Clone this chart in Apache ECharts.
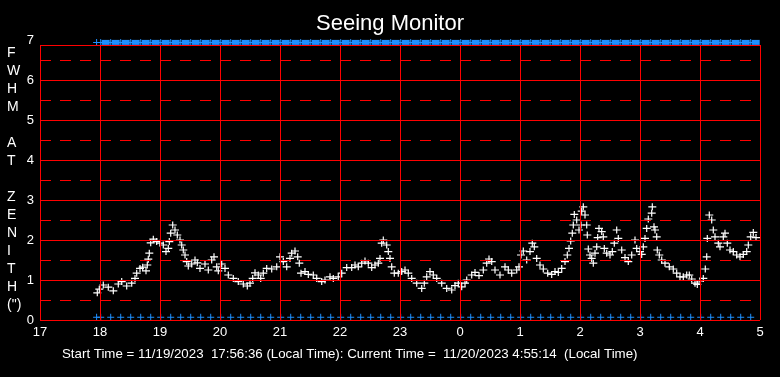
<!DOCTYPE html>
<html>
<head>
<meta charset="utf-8">
<script src="https://cdn.jsdelivr.net/npm/echarts@6/dist/echarts.min.js"></script>
<style>
  html, body { margin: 0; padding: 0; background: #000; }
  #chart { width: 780px; height: 377px; }
</style>
</head>
<body>
<div id="chart"></div>
<script>
// Time of each sample, minutes after 17:00 (local time)
const fwhmTimes = [
  57.3,59.3,63.3,68.3,73.3,78.3,81.7,86.7,91.7,95,96.7,100,102.7,106,107.3,108.3,109.3,110.7,113.3,116.7,
  120,123.3,126,128.3,129.3,130.7,132.7,135,137.3,140,141.7,143.3,145,146.7,148.3,151.7,155,157.3,160,165,
  168.3,171.7,174,176.7,178.3,181.7,185,188.3,193.3,198.3,203.3,207.3,210,212.7,215,218.3,220.7,223.3,226.7,
  231.7,236.7,240,243.3,246.7,250,251.7,255,257.7,259.3,261,265,268.3,273.3,276.7,281.7,285,290,293.3,298.3,
  301.7,306.7,311.7,315,318.3,321.7,325,328.3,331.7,335,338.3,340,341.7,343.3,346.7,348.3,350,351.7,354.3,358.3,
  361.7,365,368.3,371.7,376.7,381.7,384.3,386.7,390,393.3,396.7,401.7,406.7,411.7,415,418.3,421.7,425,
  426.7,431.7,435,439,443.3,446.7,449,451.7,455,460,465,468.3,471.7,476.7,479,481,483.3,486.7,490,492.3,
  494.3,496.7,500,503.3,507.7,511.7,515,518.3,521.7,525,527.3,529,530.7,532.3,533.3,534.3,536.7,539,541,541.7,
  543.3,545,546.7,547.3,548.3,550,551.7,553.3,555,556.7,557.7,559,561.7,563.3,564.3,566.7,570,572.3,574.3,576.7,
  578.3,581.7,
  585,588.3,591.7,595,596.7,600,601.7,603.3,605,606.7,608.3,611.7,612.3,614,615,616.7,617.3,619.3,621.7,625,
  629.3,633.3,636.7,640,643.3,646.7,649.3,651.7,655,657.3,660,663.3,665.3,666.7,667.3,669.3,671.7,673.3,675,678.3,
  680,683.3,685,687.3,690,693.3,696.7,700,703.3,706.7,708.3,710.7,713.3,716
];
// FWHM at zenith (arcsec)
const fwhmValues = [
  0.68,0.77,0.875,0.82,0.73,0.9,0.96,0.85,0.92,1.04,1.17,1.29,1.32,1.23,1.375,1.52,1.67,1.93,2.02,1.96,
  1.92,1.875,1.71,1.79,1.96,2.17,2.375,2.25,2.125,2.0,1.875,1.75,1.625,1.46,1.35,1.4,1.5,1.43,1.29,1.4,
  1.25,1.5,1.58,1.33,1.23,1.4,1.29,1.125,1.04,0.96,0.9,0.85,0.92,1.04,1.18,1.125,1.04,1.17,1.29,
  1.275,1.33,1.58,1.46,1.33,1.54,1.67,1.725,1.58,1.42,1.17,1.21,1.14,1.125,1.04,0.96,1.0,1.08,1.04,1.08,
  1.17,1.31,1.31,1.375,1.33,1.42,1.475,1.42,1.31,1.375,1.42,1.54,1.92,2.0,1.875,1.71,1.54,1.33,1.17,1.17,
  1.21,1.25,1.17,1.04,0.92,0.79,0.92,1.08,1.21,1.125,1.04,0.92,0.79,0.75,0.86,0.92,0.83,0.92,
  1.0,1.125,1.19,1.11,1.25,1.42,1.525,1.46,1.25,1.125,1.33,1.25,1.17,1.25,1.33,1.625,1.725,1.5,1.71,1.92,
  1.83,1.54,1.375,1.275,1.17,1.14,1.21,1.19,1.29,1.46,1.625,1.79,1.975,2.17,2.375,2.64,2.5,2.25,2.375,2.72,
  2.83,2.625,2.375,2.125,1.775,1.625,1.54,1.42,1.67,1.83,2.06,2.29,2.21,2.08,1.79,1.67,1.625,1.71,1.92,2.25,
  2.04,1.75,
  1.56,1.46,1.625,2.0,1.79,1.71,1.64,1.83,2.04,2.29,2.525,2.67,2.83,2.33,2.25,2.08,1.75,1.625,1.5,1.42,
  1.33,1.275,1.17,1.08,1.08,1.125,1.125,1.025,0.92,0.89,0.975,1.04,1.275,1.58,2.04,2.625,2.5,2.25,2.08,1.92,
  1.83,2.08,2.17,1.92,1.75,1.71,1.625,1.58,1.64,1.71,1.875,2.08,2.19,2.06
];
// Blue status markers, minutes after 17:00
const markerTimes = [
  56.6,60.7,70.7,80.7,90.7,100.7,110.7,120.7,130.7,140.7,150.7,160.7,170.7,180.7,190.7,200.7,210.7,220.7,
  230.7,240.7,250.7,260.7,270.7,280.7,290.7,300.7,310.7,320.7,330.7,340.7,350.7,360.7,370.7,380.7,390.7,
  400.7,410.7,420.7,430.7,440.7,450.7,460.7,470.7,480.7,490.7,500.7,510.7,520.7,530.7,540.7,550.7,560.7,
  570.7,580.7,590.7,600.7,610.7,620.7,630.7,640.7,650.7,660.7,670.7,680.7,690.7,700.7,710.7
];
const topMarkerLevel = 6.94;
const bottomMarkerLevel = 0.07;
const xHours = [17,18,19,20,21,22,23,24,25,26,27,28,29];
const ySolid = [0,1,2,3,4,5,6];
const yDashed = [0.5,1.5,2.5,3.5,4.5,5.5,6.5];
const plotTop = 6.875;

const toHour = m => 17 + m / 60;
const n = Math.min(fwhmTimes.length, fwhmValues.length);
const fwhmData = [];
for (let i = 0; i < n; i++) fwhmData.push([toHour(fwhmTimes[i]), fwhmValues[i]]);
const bottomData = markerTimes.map(m => [toHour(m), bottomMarkerLevel]);
const topPlusData = markerTimes.map(m => [toHour(m), topMarkerLevel]);
const topBarData = markerTimes.slice(1).map(m => [toHour(m + 5), topMarkerLevel]);

const RED = '#ff0000';
const gridLines = [];
ySolid.forEach(v => gridLines.push([{coord:[17, v], lineStyle:{color:RED, width:1, type:'solid'}}, {coord:[29, v]}]));
yDashed.forEach(v => gridLines.push([{coord:[17, v], lineStyle:{color:RED, width:1, type:[11,9]}}, {coord:[29, v]}]));
gridLines.push([{coord:[17, plotTop], lineStyle:{color:RED, width:1, type:'solid'}}, {coord:[29, plotTop]}]);
xHours.forEach(h => gridLines.push([{coord:[h, 0], lineStyle:{color:RED, width:1, type:'solid'}}, {coord:[h, plotTop]}]));

const PLUS = 'path://M0,3H7V4H0Z M3,0H4V7H3Z';
const PLUS_W = 'path://M0,2.9H8V4.1H0Z M3.4,0H4.6V7H3.4Z';
const FONT = 'Liberation Sans, Arial, sans-serif';

const chart = echarts.init(document.getElementById('chart'), null, {renderer: 'canvas'});
chart.setOption({
  backgroundColor: '#000',
  animation: false,
  title: {
    text: 'Seeing Monitor', left: 'center', top: 8,
    textStyle: {color: '#fff', fontSize: 22, fontWeight: 'normal', fontFamily: FONT}
  },
  grid: {left: 40, right: 20, top: 40, bottom: 57, containLabel: false},
  xAxis: {
    type: 'value', min: 17, max: 29, interval: 1,
    axisLine: {show: false}, axisTick: {show: false}, splitLine: {show: false},
    axisLabel: {color: '#fff', fontSize: 13, fontFamily: FONT, margin: 6, formatter: v => String(v % 24)}
  },
  yAxis: {
    type: 'value', min: 0, max: 7, interval: 1,
    axisLine: {show: false}, axisTick: {show: false}, splitLine: {show: false},
    axisLabel: {color: '#fff', fontSize: 13, fontFamily: FONT, margin: 6}
  },
  graphic: [
    {
      type: 'text', left: 7, top: 44, z: 10,
      style: {
        text: 'F\nW\nH\nM\n\nA\nT\n\nZ\nE\nN\nI\nT\nH\n(")',
        fill: '#fff', font: '14px ' + FONT, lineHeight: 18, align: 'center', width: 14
      }
    },
    {
      type: 'text', left: 62, top: 348, z: 10,
      style: {
        text: 'Start Time = 11/19/2023  17:56:36 (Local Time): Current Time =  11/20/2023 4:55:14  (Local Time)',
        fill: '#fff', font: '13.3px ' + FONT
      }
    }
  ],
  series: [
    {
      type: 'scatter', data: [], z: 1, silent: true,
      markLine: {silent: true, symbol: ['none','none'], label: {show: false}, animation: false, data: gridLines}
    },
    {
      type: 'scatter', data: topBarData, z: 2, silent: true, symbol: 'rect', symbolSize: [8, 5],
      itemStyle: {color: '#1e90ff', opacity: 1}
    },
    {
      type: 'scatter', data: topPlusData, z: 2, silent: true, symbol: PLUS, symbolSize: 7,
      itemStyle: {color: '#1e90ff', opacity: 1}
    },
    {
      type: 'scatter', data: bottomData, z: 2, silent: true, symbol: PLUS, symbolSize: 7,
      itemStyle: {color: '#1e90ff', opacity: 1}
    },
    {
      type: 'scatter', data: fwhmData, z: 3, silent: true, symbol: PLUS_W, symbolSize: [8, 7],
      itemStyle: {color: '#ffffff', opacity: 1}
    }
  ]
});
</script>
</body>
</html>
